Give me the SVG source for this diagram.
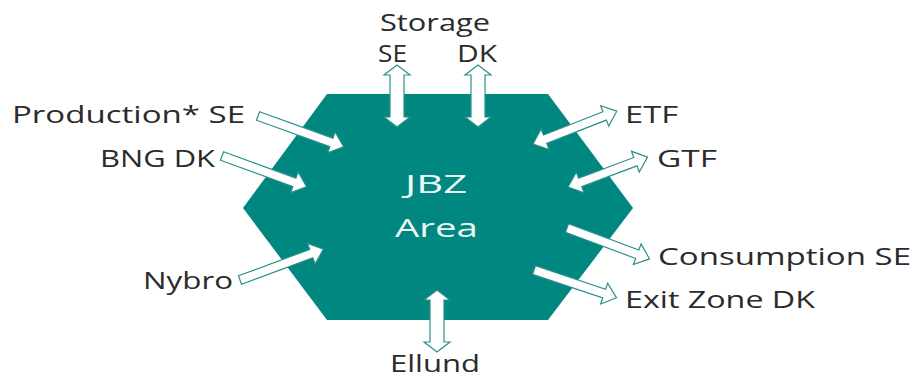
<svg xmlns="http://www.w3.org/2000/svg" width="913" height="378" viewBox="0 0 913 378">
  <style>
    .lbl { font-family: "Open Sans", "Noto Sans", "DejaVu Sans", sans-serif; font-size: 23px; fill: #2b2b2b; }
    .hex-txt { font-family: "Open Sans", "Noto Sans", "DejaVu Sans", sans-serif; font-size: 25px; fill: #eef7f6; }
    .arr { fill: #ffffff; stroke: #2a8f8b; stroke-width: 1.2; stroke-linejoin: miter; }
  </style>

  <rect width="913" height="378" fill="#ffffff"/>

  <g id="jbz-area">
    <polygon points="327,94 548,94 633,208 548,320 327,320 243,208" fill="#00877f"/>
    <text class="hex-txt" x="405" y="193" textLength="62" lengthAdjust="spacingAndGlyphs">JBZ</text>
    <text class="hex-txt" x="395" y="237" textLength="83" lengthAdjust="spacingAndGlyphs">Area</text>
  </g>

  <g id="storage">
    <text class="lbl" x="380" y="31" textLength="110" lengthAdjust="spacingAndGlyphs">Storage</text>
    <text class="lbl" x="378" y="62" textLength="29" lengthAdjust="spacingAndGlyphs">SE</text>
    <text class="lbl" x="457" y="62" textLength="40" lengthAdjust="spacingAndGlyphs">DK</text>
  </g>
  <g id="production-se"><text class="lbl" x="12" y="123" textLength="233" lengthAdjust="spacingAndGlyphs">Production* SE</text></g>
  <g id="bng-dk"><text class="lbl" x="100" y="167" textLength="115" lengthAdjust="spacingAndGlyphs">BNG DK</text></g>
  <g id="nybro"><text class="lbl" x="143" y="289" textLength="90" lengthAdjust="spacingAndGlyphs">Nybro</text></g>
  <g id="etf"><text class="lbl" x="625" y="123" textLength="53" lengthAdjust="spacingAndGlyphs">ETF</text></g>
  <g id="gtf"><text class="lbl" x="657" y="167" textLength="60" lengthAdjust="spacingAndGlyphs">GTF</text></g>
  <g id="consumption-se"><text class="lbl" x="658" y="265" textLength="253" lengthAdjust="spacingAndGlyphs">Consumption SE</text></g>
  <g id="exit-zone-dk"><text class="lbl" x="625" y="308" textLength="190" lengthAdjust="spacingAndGlyphs">Exit Zone DK</text></g>
  <g id="ellund"><text class="lbl" x="390" y="372" textLength="90" lengthAdjust="spacingAndGlyphs">Ellund</text></g>

  <g id="connectors">
    <!-- Storage SE (two heads, vertical) -->
    <path class="arr" d="M397,65 L410,75 L404,75 L404,117 L410,117 L397,127 L384,117 L390,117 L390,75 L384,75 Z"/>
    <!-- Storage DK -->
    <path class="arr" d="M478,65 L491,75 L485,75 L485,117 L491,117 L478,127 L465,117 L471,117 L471,75 L465,75 Z"/>
    <!-- Ellund -->
    <path class="arr" d="M437,290 L450,300 L444,300 L444,342 L450,342 L437,352 L424,342 L430,342 L430,300 L424,300 Z"/>
    <!-- Production* SE in -->
    <path class="arr" transform="translate(258,116) rotate(19.8)" d="M0,-4.5 L78,-4.5 L78,-11 L91,0 L78,11 L78,4.5 L0,4.5 Z"/>
    <!-- BNG DK in -->
    <path class="arr" transform="translate(222,156) rotate(20)" d="M0,-4.5 L77,-4.5 L77,-11 L90,0 L77,11 L77,4.5 L0,4.5 Z"/>
    <!-- Nybro in -->
    <path class="arr" transform="translate(240,280) rotate(-20.3)" d="M0,-4.5 L76,-4.5 L76,-11 L89,0 L76,11 L76,4.5 L0,4.5 Z"/>
    <!-- ETF both ways -->
    <path class="arr" transform="translate(533,144) rotate(-21.4)" d="M0,0 L13,-11 L13,-4.5 L77,-4.5 L77,-11 L90,0 L77,11 L77,4.5 L13,4.5 L13,11 Z"/>
    <!-- GTF both ways -->
    <path class="arr" transform="translate(568,187) rotate(-20.6)" d="M0,0 L13,-11 L13,-4.5 L72,-4.5 L72,-11 L85,0 L72,11 L72,4.5 L13,4.5 L13,11 Z"/>
    <!-- Consumption SE out -->
    <path class="arr" transform="translate(567,228) rotate(20.5)" d="M0,-4.5 L75,-4.5 L75,-11 L88,0 L75,11 L75,4.5 L0,4.5 Z"/>
    <!-- Exit Zone DK out -->
    <path class="arr" transform="translate(534,270) rotate(18.6)" d="M0,-4.5 L74,-4.5 L74,-11 L87,0 L74,11 L74,4.5 L0,4.5 Z"/>
  </g>
</svg>
